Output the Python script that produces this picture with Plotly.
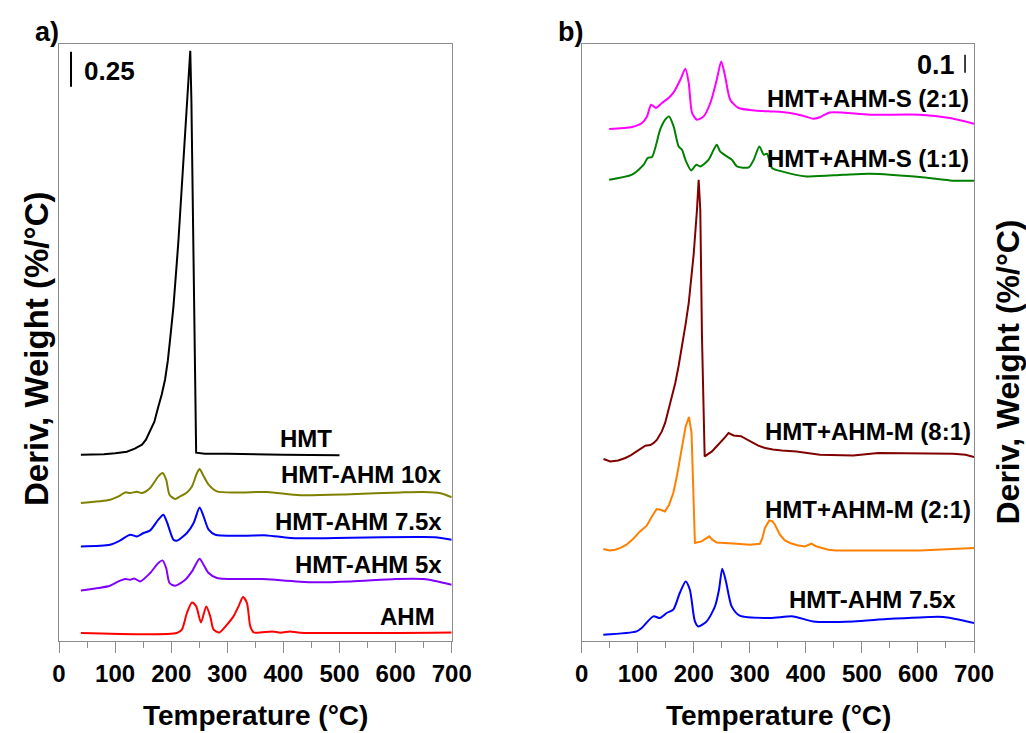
import plotly.graph_objects as go

# ---------------- data (temperature in °C, signal in offset arbitrary units) ----------------
# Panel a
hmt_T = [39, 80, 100, 121, 135, 148, 155, 162, 170, 177, 183, 189, 194, 198, 204, 210, 213, 223, 230, 234, 236, 240, 242, 244.5, 260, 300, 400, 500]
hmt_v = [186, 186.5, 187.5, 189, 192, 196, 201, 209, 219, 234, 246, 261, 280, 301, 334, 378, 401, 491, 551, 590, 540, 385, 290, 188, 187, 187, 186, 185.5]

a10_T = [39, 91, 106, 118, 127, 139, 148, 162.5, 177, 184.5, 191, 197, 207, 216, 228, 237, 246, 250.6, 256.5, 266.7, 281.5, 323, 371, 430, 520, 609, 650, 680, 700]
a10_v = [137.7, 141, 144.3, 148.3, 147.7, 149, 147.7, 152.7, 164.3, 167.7, 161, 146, 141.7, 144.3, 148.3, 154.3, 167.7, 171.7, 166, 156, 149.3, 148.3, 148.7, 145.5, 146.5, 148.3, 148.7, 147.5, 143.5]

a75_T = [39, 91, 106, 127, 139, 150.5, 162.5, 177, 186, 193, 204, 210, 228, 240, 250.6, 257.7, 266.7, 278.6, 329, 371, 412, 520, 639, 670, 700]
a75_v = [94.3, 96, 99.3, 106, 104.3, 107.7, 110.3, 121, 126, 117.7, 101, 100, 107.7, 117.7, 133.3, 124.3, 111, 106, 105, 105.3, 102.7, 103, 103.7, 103.5, 101]

a5_T = [39, 91, 106, 118, 127, 134, 144.6, 162.5, 177, 184.5, 191, 197, 207, 225, 237, 250.6, 257.7, 266.7, 281.5, 359, 371, 450, 520, 600, 650, 700]
a5_v = [50.3, 55, 59.3, 61.7, 61, 62.3, 59.3, 67.7, 77.7, 80.3, 72.7, 57.7, 55, 61, 69.3, 82, 76, 67.7, 62.7, 61.7, 61.5, 58.5, 59.3, 61.7, 61.7, 56]

ahm_T = [39, 210, 219, 228, 237, 244.6, 253, 262.5, 269.6, 275.6, 286, 299.5, 311, 320, 328, 335, 341, 347, 380, 395, 412, 430, 700]
ahm_v = [7.7, 7.7, 11, 27.7, 38.3, 34.3, 18.3, 34.3, 24.3, 11, 8.3, 16, 24.3, 34.3, 43.7, 37.7, 14.3, 8.3, 9.3, 8, 9.2, 8, 8.3]

# Panel b
s21_T = [49, 89.7, 107.6, 116.5, 124, 132.5, 143, 155, 164, 176, 185, 191, 197, 205.7, 217.6, 229.5, 241, 249, 256, 265, 280, 309.6, 336, 357, 372, 395, 413, 425, 443, 514, 603, 657, 700]
s21_v = [511.7, 513.7, 517.7, 524.3, 536, 532.7, 537.7, 542.7, 548.3, 561, 572, 557.7, 527.7, 521, 524.3, 537.7, 561, 579.3, 564.3, 541, 532.7, 530.3, 529.3, 528.7, 527.7, 525, 522, 523.5, 528.3, 526, 526, 522.7, 517]

s11_T = [49, 89.7, 110.6, 117.7, 125.4, 140, 149, 156, 164, 173, 179, 185, 195.5, 204.4, 211.6, 226.5, 235.5, 241, 247, 259, 268, 277, 298, 307, 317, 325, 330.5, 339.5, 357, 401, 467, 514, 603, 657, 700]
s11_v = [461, 466, 476, 482.7, 483.7, 511, 521, 524.3, 514.3, 494.3, 491, 481, 470.3, 476, 474.3, 481, 491, 496, 489.3, 484.3, 481, 474.3, 473.3, 481, 494.3, 486, 487, 472.7, 469.3, 464.3, 466, 467, 463.7, 460.3, 460]

m81_T = [39, 51, 65, 78, 88, 95.6, 104, 113.5, 122.4, 128, 134.4, 143, 149, 155, 161, 167, 173, 179, 185, 191, 196, 200, 205.7, 208.7, 211.6, 214.6, 219.4, 226, 232.4, 241, 250, 256, 262, 271, 284, 294, 304, 315, 327.5, 341, 357, 383, 425, 484.5, 529, 603, 663, 685, 700]
m81_v = [181.7, 179.3, 180.3, 182.7, 185.5, 188.3, 192, 195, 195.7, 197.5, 201, 209.3, 218, 231, 243.5, 257.7, 275, 294.3, 315, 337.7, 362, 387.7, 431, 461, 431, 304.3, 184.3, 186.7, 189.3, 194.5, 199.3, 203.5, 207.7, 205.3, 204.5, 201.5, 197.7, 195, 192.7, 191.2, 190.3, 189.3, 186, 185.3, 187.7, 187.7, 187, 186, 183.7]

m21_T = [38.6, 50, 60, 70, 80, 92, 104, 116, 125, 133.8, 141, 148.6, 156, 163.4, 170, 175, 180, 185.5, 191.4, 196, 202, 214, 220, 227.6, 233, 240.8, 276.5, 300, 318, 322, 327, 334.7, 340, 344.8, 353.7, 362, 371.6, 385, 398, 410, 418, 428, 440, 455, 603, 700]
m21_v = [91.7, 90.3, 91, 93, 96, 102, 109.3, 115, 124, 131.7, 131, 129.3, 136, 147.7, 165, 181, 199, 214.3, 223.7, 207.7, 97.7, 99.3, 101.5, 104.3, 101, 98.3, 97, 96, 97, 102, 112.7, 120.3, 119.5, 116, 106, 100.5, 97.7, 95.5, 94.3, 97, 94.5, 92.7, 91, 90.3, 90.3, 92.7]

b75_T = [38.6, 98, 107, 127.8, 139.7, 151.6, 163.4, 175, 185.5, 193, 202, 208, 223, 237.8, 245, 250.8, 257.4, 267.6, 282, 336, 377.5, 413, 484.5, 544, 603, 645, 700]
b75_v = [6, 9.3, 12.7, 24.3, 22.7, 27.7, 31, 47.7, 59.3, 51, 19.3, 14.3, 19.3, 34.3, 51, 72, 59.3, 34.3, 25, 22.7, 24.3, 19.3, 19.3, 21.7, 23.3, 23.7, 17.7]

# scale bars (%/°C) and a.u. per %/°C
bar_a_value, scale_a = 0.25, 140
bar_b_value, scale_b = 0.1, 180

tick_vals = [0, 100, 200, 300, 400, 500, 600, 700]

# ---------------- figure ----------------
FONT = "Arial, Liberation Sans, Helvetica, sans-serif"
GRAY = "#8c8c8c"
W, H = 1026, 733

fig = go.Figure()

def add(x, y, color, xa, ya, shape="spline"):
    fig.add_trace(go.Scatter(x=x, y=y, mode="lines", xaxis=xa, yaxis=ya,
                             line=dict(color=color, width=2, shape=shape,
                                       smoothing=0.7 if shape == "spline" else None),
                             hoverinfo="skip", showlegend=False))

add(hmt_T, hmt_v, "#000000", "x", "y", "linear")
add(a10_T, a10_v, "#808000", "x", "y")
add(a75_T, a75_v, "#0000ff", "x", "y")
add(a5_T, a5_v, "#8000ff", "x", "y")
add(ahm_T, ahm_v, "#ff0000", "x", "y")

add(s21_T, s21_v, "#ff00ff", "x2", "y2")
add(s11_T, s11_v, "#008000", "x2", "y2")
add(m81_T, m81_v, "#800000", "x2", "y2", "linear")
add(m21_T, m21_v, "#ff8000", "x2", "y2", "linear")
add(b75_T, b75_v, "#0000ff", "x2", "y2")

# scale bars
ya0 = 554
fig.add_trace(go.Scatter(x=[21.4, 21.4], y=[ya0, ya0 + bar_a_value * scale_a], mode="lines",
                         xaxis="x", yaxis="y", line=dict(color="black", width=2),
                         hoverinfo="skip", showlegend=False))
yb0 = 568
fig.add_trace(go.Scatter(x=[684, 684], y=[yb0, yb0 + bar_b_value * scale_b], mode="lines",
                         xaxis="x2", yaxis="y2", line=dict(color="black", width=1.5),
                         hoverinfo="skip", showlegend=False))

x_common = dict(range=[0, 700], showline=True, linecolor=GRAY, linewidth=1, mirror=True,
                ticks="outside", ticklen=11, tickwidth=1, tickcolor=GRAY,
                tickvals=tick_vals, ticktext=[str(v) for v in tick_vals],
                tickfont=dict(family=FONT, size=24, color="black", weight="bold"),
                minor=dict(dtick=50, tick0=0, ticks="outside", ticklen=6, tickwidth=1, tickcolor=GRAY),
                showgrid=False, zeroline=False, automargin=False)
y_common = dict(range=[0, 596.7], showline=True, linecolor=GRAY, linewidth=1, mirror=True,
                ticks="", showticklabels=False, showgrid=False, zeroline=False, automargin=False)

ydom = [1 - 640.7 / H, 1 - 44 / H]
fig.update_layout(
    width=W, height=H, autosize=False, margin=dict(l=0, r=0, t=0, b=0, pad=0),
    paper_bgcolor="white", plot_bgcolor="white",
    xaxis=dict(domain=[59 / W, 451.7 / W], anchor="y", **x_common),
    yaxis=dict(domain=ydom, anchor="x", **y_common),
    xaxis2=dict(domain=[581.7 / W, 974 / W], anchor="y2", **x_common),
    yaxis2=dict(domain=ydom, anchor="x2", **y_common),
)

def lab(text, x, y, xref, yref, size=24, xanchor="right", angle=0, yanchor="middle"):
    fig.add_annotation(text=text, x=x, y=y, xref=xref, yref=yref, showarrow=False,
                       xanchor=xanchor, yanchor=yanchor, textangle=angle,
                       font=dict(family=FONT, size=size, color="black", weight="bold"))

# curve labels
lab("HMT", 489.8, 202.3, "x", "y")
lab("HMT-AHM 10x", 686, 166, "x", "y")
lab("HMT-AHM 7.5x", 686, 119.3, "x", "y")
lab("HMT-AHM 5x", 686, 76, "x", "y")
lab("AHM", 674.5, 24.3, "x", "y")

lab("HMT+AHM-S (2:1)", 694, 542.7, "x2", "y2")
lab("HMT+AHM-S (1:1)", 694, 482.7, "x2", "y2")
lab("HMT+AHM-M (8:1)", 697.7, 209.7, "x2", "y2")
lab("HMT+AHM-M (2:1)", 697.7, 131, "x2", "y2")
lab("HMT-AHM 7.5x", 672, 41, "x2", "y2")

# scale bar texts
lab("0.25", 41, 570, "x", "y", size=26, xanchor="left")
lab("0.1", 670, 576, "x2", "y2", size=27, xanchor="right")

# panel letters
lab("a)", 33 / W, 1 - 32 / H, "paper", "paper", size=27, xanchor="left")
lab("b)", 556 / W, 1 - 32 / H, "paper", "paper", size=27, xanchor="left")

# axis titles
lab("Temperature (°C)", 255 / W, 1 - 715 / H, "paper", "paper", size=28, xanchor="center")
lab("Temperature (°C)", 778 / W, 1 - 715 / H, "paper", "paper", size=28, xanchor="center")
lab("Deriv, Weight (%/°C)", 36 / W, 1 - 349 / H, "paper", "paper", size=33, xanchor="center", angle=-90)
lab("Deriv, Weight (%/°C)", 1007.5 / W, 1 - 372 / H, "paper", "paper", size=32, xanchor="center", angle=-90)

fig.write_html("out.html", config={"responsive": False, "displayModeBar": False},
               post_script="document.body.style.margin='0px';document.body.style.overflow='hidden';")
